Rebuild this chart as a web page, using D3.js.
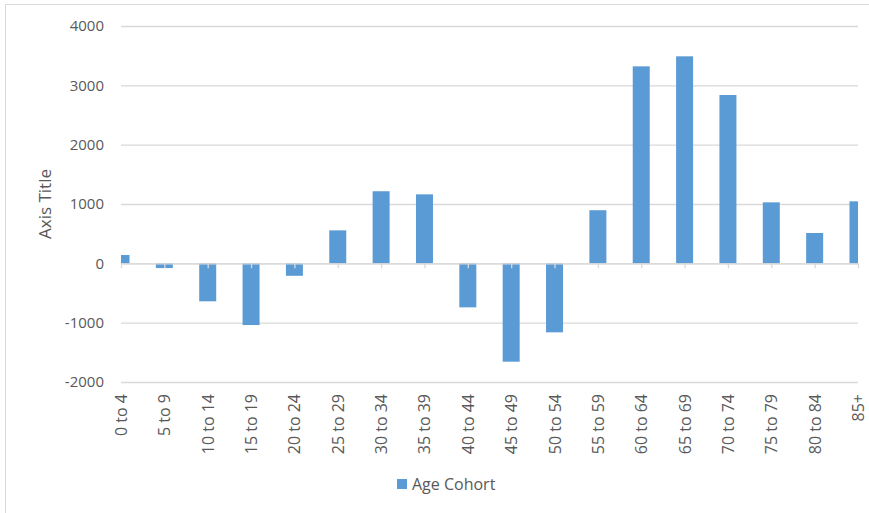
<!DOCTYPE html>
<html>
<head>
<meta charset="utf-8">
<script src="https://cdn.jsdelivr.net/npm/d3@7"></script>
<style>
  body { margin: 0; background: #fff; }
  text { font-family: "Open Sans", sans-serif; fill: #595959; }
</style>
</head>
<body>
<div id="chart"></div>
<script>
// age cohorts on the x axis
var categories = ["0 to 4", "5 to 9", "10 to 14", "15 to 19", "20 to 24", "25 to 29",
  "30 to 34", "35 to 39", "40 to 44", "45 to 49", "50 to 54", "55 to 59",
  "60 to 64", "65 to 69", "70 to 74", "75 to 79", "80 to 84", "85+"];

// change per cohort
var values = [140, -80, -640, -1040, -210, 556, 1215, 1163, -742, -1658, -1163, 895,
  3320, 3489, 2837, 1028, 511, 1045];

var yTicks = [-2000, -1000, 0, 1000, 2000, 3000, 4000];
var seriesName = "Age Cohort";

var width = 869, height = 513;
var plot = { left: 121, right: 858, top: 26, bottom: 382 };

var svg = d3.select("#chart")
  .append("svg")
  .attr("width", width)
  .attr("height", height);

// chart area border (right / bottom run off the picture)
svg.append("rect")
  .attr("x", 5.5).attr("y", 4.5)
  .attr("width", 880).attr("height", 520)
  .attr("fill", "none")
  .attr("stroke", "#d9d9d9");

var x = d3.scalePoint()
  .domain(categories)
  .range([plot.left, plot.right])
  .padding(0);

var y = d3.scaleLinear()
  .domain([-2000, 4000])
  .range([plot.bottom, plot.top]);

// gridlines + y labels (plain hyphen for negatives, like excel)
var yAxis = svg.append("g")
  .attr("transform", "translate(" + plot.left + ",0)")
  .call(d3.axisLeft(y).tickValues(yTicks).tickSize(-(plot.right - plot.left)).tickPadding(17)
    .tickFormat(function (d) { return String(d); }));
yAxis.select(".domain").remove();
yAxis.selectAll("line").attr("stroke", "#d9d9d9").attr("stroke-width", 1.3);
yAxis.selectAll("text")
  .style("font-size", "15px")
  .style("font-family", "'Open Sans', sans-serif")
  .attr("fill", "#595959");

// bars, clipped to the plot area
svg.append("clipPath").attr("id", "plotclip")
  .append("rect")
  .attr("x", plot.left).attr("y", plot.top - 5)
  .attr("width", plot.right - plot.left)
  .attr("height", plot.bottom - plot.top + 10);

var barW = 17;
svg.append("g")
  .attr("clip-path", "url(#plotclip)")
  .selectAll("rect")
  .data(values)
  .enter()
  .append("rect")
  .attr("x", function (d, i) { return x(categories[i]) - barW / 2; })
  .attr("y", function (d) { return y(Math.max(0, d)); })
  .attr("width", barW)
  .attr("height", function (d) { return Math.abs(y(d) - y(0)); })
  .attr("fill", "#5b9bd5");

// category axis sits on the zero line
var xAxis = svg.append("g")
  .attr("transform", "translate(0," + y(0) + ")")
  .call(d3.axisBottom(x).tickSize(5).tickSizeOuter(0));
xAxis.select(".domain").attr("stroke", "#d9d9d9").attr("stroke-width", 1.3);
xAxis.selectAll("line").attr("stroke", "#d9d9d9").attr("stroke-width", 1.3);
xAxis.selectAll("text").remove();

// category labels, rotated, below the plot
svg.append("g")
  .selectAll("text")
  .data(categories)
  .enter()
  .append("text")
  .attr("transform", function (d) {
    return "translate(" + (x(d) + 6) + "," + (plot.bottom + 12) + ") rotate(-90)";
  })
  .attr("text-anchor", "end")
  .style("font-size", "16px")
  .text(function (d) { return d; });

// y axis title
svg.append("text")
  .attr("transform", "translate(51," + ((plot.top + plot.bottom) / 2) + ") rotate(-90)")
  .attr("text-anchor", "middle")
  .style("font-size", "17px")
  .text("Axis Title");

// legend
var legend = svg.append("g").attr("transform", "translate(397,479)");
legend.append("rect")
  .attr("width", 10).attr("height", 10)
  .attr("fill", "#5b9bd5");
legend.append("text")
  .attr("x", 15).attr("y", 11)
  .style("font-size", "16px")
  .text(seriesName);
</script>
</body>
</html>
